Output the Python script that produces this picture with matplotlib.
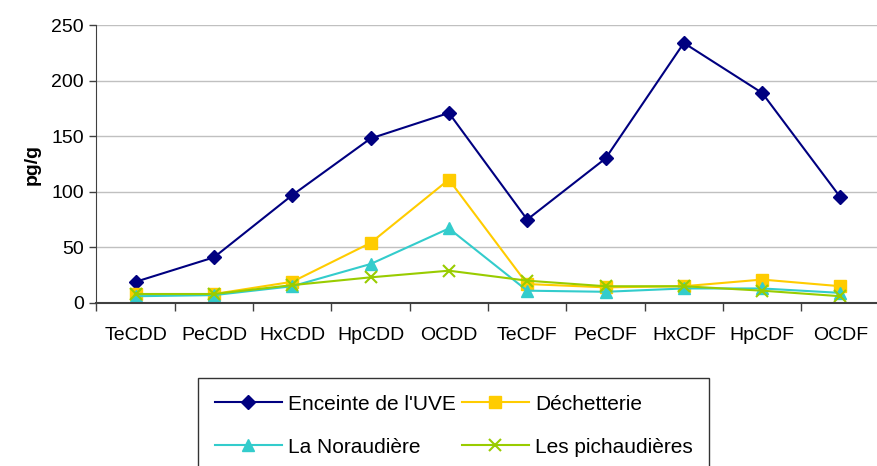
import numpy as np
import matplotlib.pyplot as plt

plt.rcParams['font.family'] = ['Liberation Sans', 'DejaVu Sans']

categories = ['TeCDD', 'PeCDD', 'HxCDD', 'HpCDD', 'OCDD',
              'TeCDF', 'PeCDF', 'HxCDF', 'HpCDF', 'OCDF']
enceinte = [19, 41, 97, 148, 171, 75, 130, 234, 189, 95]
dechetterie = [8, 8, 19, 54, 111, 17, 14, 15, 21, 15]
noraudiere = [6, 7, 15, 35, 67, 11, 10, 13, 13, 9]
pichaudieres = [8, 8, 16, 23, 29, 20, 15, 15, 11, 6]

x = np.arange(len(categories))

fig = plt.figure(figsize=(8.77, 4.66), dpi=100)
ax = fig.add_axes([0.110, 0.350, 0.893, 0.596])

l1, = ax.plot(x, enceinte, color='#000080', marker='D', markersize=7, lw=1.5,
              label="Enceinte de l'UVE")
l2, = ax.plot(x, dechetterie, color='#FFCC00', marker='s', markersize=9, lw=1.5,
              label='Déchetterie')
l3, = ax.plot(x, noraudiere, color='#33CCCC', marker='^', markersize=9, lw=1.5,
              label='La Noraudière')
l4, = ax.plot(x, pichaudieres, color='#99CC00', marker='x', markersize=9, mew=1.5, lw=1.5,
              label='Les pichaudières')

ax.set_xlim(-0.5, len(categories) - 0.5)
ax.set_ylim(0, 250)
ax.set_yticks(range(0, 251, 50))
ax.set_xticks(x)
ax.set_xticklabels(categories)
ax.set_xticks(np.arange(-0.5, len(categories), 1), minor=True)
ax.tick_params(axis='x', which='major', length=0, pad=17, labelsize=14)
ax.tick_params(axis='x', which='minor', length=6, width=1, color='#404040')
ax.tick_params(axis='y', length=5, width=1, color='#404040', labelsize=14, pad=4)

ax.grid(axis='y', color='#c0c0c0', lw=1)
ax.set_axisbelow(True)
for s in ['top', 'right']:
    ax.spines[s].set_visible(False)
ax.spines['left'].set_color('#404040')
ax.spines['bottom'].set_color('#404040')
ax.spines['bottom'].set_linewidth(1.5)

ax.set_ylabel('pg/g', fontsize=14, fontweight='bold', labelpad=8)

handles = [l1, l3, l2, l4]
leg = fig.legend(handles=handles, labels=[h.get_label() for h in handles],
                 loc='upper left', bbox_to_anchor=(0.226, 0.189), borderaxespad=0,
                 ncol=2, fontsize=15, frameon=True, fancybox=False, edgecolor='black',
                 handlelength=3.2, columnspacing=0.3, handletextpad=0.3,
                 borderpad=0.8, labelspacing=1.15)
leg.get_frame().set_linewidth(1)

fig.savefig('out.png', dpi=100)
